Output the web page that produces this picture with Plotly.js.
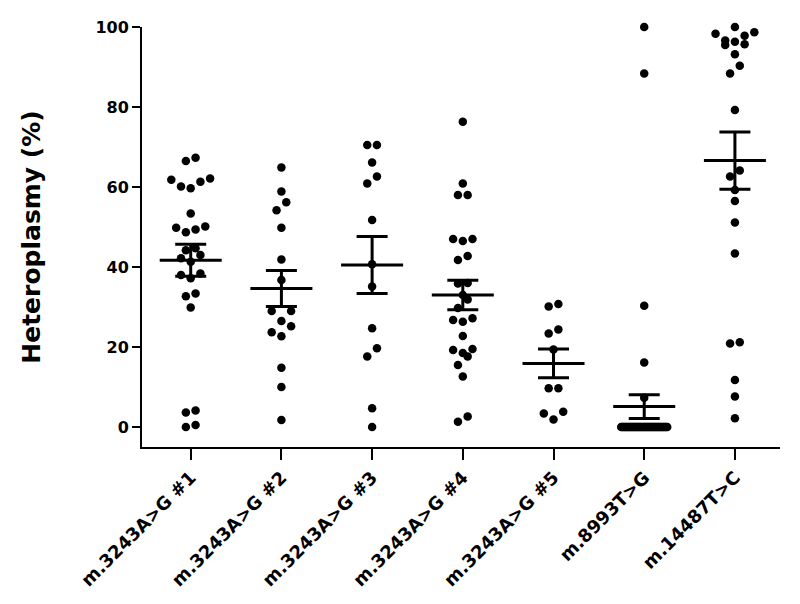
<!DOCTYPE html>
<html>
<head>
<meta charset="utf-8">
<script src="https://cdn.plot.ly/plotly-3.0.1.min.js"></script>
<style>html,body{margin:0;padding:0;background:#fff;}#chart{width:800px;height:604px;}</style>
</head>
<body>
<div id="chart"></div>
<script>
// ---------- data ----------
const categories = ["m.3243A>G #1", "m.3243A>G #2", "m.3243A>G #3", "m.3243A>G #4", "m.3243A>G #5", "m.8993T>G", "m.14487T>C"];

const g1 = [67.3, 66.5, 62.1, 61.8, 61.3, 60.1, 59.7, 53.4, 50.1, 49.8, 49.4, 48.7, 44.7, 44.2, 43.0, 42.2, 41.3, 38.4, 38.0, 37.2, 33.4, 32.7, 29.9, 4.1, 3.6, 0.5, 0];
const g2 = [64.9, 58.9, 56.2, 54.2, 49.8, 41.9, 36.75, 29.0, 29.0, 26.5, 25.2, 23.7, 22.7, 14.8, 10.0, 1.75];
const g3 = [70.5, 70.5, 66.1, 62.6, 60.9, 51.75, 40.7, 35.1, 24.7, 19.7, 17.6, 4.7, 0];
const g4 = [76.3, 60.9, 58.0, 58.0, 47.0, 46.5, 47.0, 42.75, 41.75, 36.0, 35.9, 33.0, 31.9, 29.75, 27.2, 26.75, 26.3, 22.75, 19.5, 19.25, 18.5, 17.6, 15.5, 12.6, 2.6, 1.3];
const g5 = [30.75, 30.1, 24.4, 23.4, 19.4, 9.7, 9.7, 3.8, 3.4, 1.9];
const g6 = [100, 88.4, 30.3, 16.1, 7.3,
  0, 0, 0, 0, 0, 0, 0, 0, 0, 0, 0, 0, 0, 0, 0, 0, 0, 0, 0, 0, 0,
  0, 0, 0, 0, 0, 0, 0, 0, 0, 0, 0, 0, 0, 0, 0, 0, 0, 0, 0, 0, 0];
const g7 = [100, 98.7, 97.8, 98.3, 96.6, 96.3, 95.5, 95.7, 93.2, 90.3, 88.4, 79.25, 64.1, 62.6, 59.25, 56.5, 51.1, 43.4, 21.2, 20.9, 11.75, 7.6, 2.2];

const means = [41.7, 34.6, 40.5, 33.0, 15.9, 5.1, 66.6];
const sems  = [4.0, 4.5, 7.1, 3.7, 3.6, 2.95, 7.15];

const yTicks = [0, 20, 40, 60, 80, 100];
const yTitle = "Heteroplasmy (%)";

// ---------- layout geometry ----------
const W = 800, H = 604;
const M = {l: 142, r: 20, t: 27, b: 157};
const xRange = [-0.537, 6.497];
const yRange = [-5, 100];
const pxPerX = (W - M.l - M.r) / (xRange[1] - xRange[0]);
const pxPerY = (H - M.t - M.b) / (yRange[1] - yRange[0]);

// beeswarm offsets (pixels) computed from the values
function swarm(vals) {
  const spacing = 9.7, binPx = 10, maxHalf = 23;
  const idx = vals.map((v, i) => i).sort((a, b) => vals[a] - vals[b]);
  const off = new Array(vals.length).fill(0);
  const bins = [];
  let cur = [];
  idx.forEach(i => {
    if (cur.length && (vals[i] - vals[cur[0]]) * pxPerY > binPx) { bins.push(cur); cur = []; }
    cur.push(i);
  });
  if (cur.length) bins.push(cur);
  bins.forEach(b => {
    const n = b.length;
    let step = spacing;
    if (n > 1 && (n - 1) / 2 * step > maxHalf) step = 2 * maxHalf / (n - 1);
    const pos = [];
    for (let k = 0; k < n; k++) pos.push((k - (n - 1) / 2) * step);
    pos.sort((a, c) => Math.abs(a) - Math.abs(c) || a - c);
    b.forEach((i, k) => { off[i] = pos[k]; });
  });
  return off;
}

const groups = [g1, g2, g3, g4, g5, g6, g7];
const traces = [];
groups.forEach((vals, gi) => {
  const off = swarm(vals);
  traces.push({
    type: 'scatter', mode: 'markers',
    x: vals.map((v, i) => gi + off[i] / pxPerX),
    y: vals,
    marker: {color: '#000', size: 8.5, line: {width: 0}},
    cliponaxis: false, hoverinfo: 'y', showlegend: false
  });
});

// mean lines (line-ew spans 1.4 x size) with SEM error bars
traces.push({
  type: 'scatter', mode: 'markers',
  x: categories.map((c, i) => i),
  y: means,
  marker: {symbol: 'line-ew', size: 44.3, color: '#000', line: {width: 3, color: '#000'}},
  error_y: {type: 'data', array: sems, visible: true, color: '#000', thickness: 3, width: 15.5},
  cliponaxis: false, showlegend: false, hoverinfo: 'y'
});

const fontFam = '"DejaVu Sans", Verdana, sans-serif';
const layout = {
  width: W, height: H,
  margin: M,
  paper_bgcolor: '#fff', plot_bgcolor: '#fff',
  showlegend: false,
  font: {family: fontFam, color: '#000'},
  xaxis: {
    range: xRange, showgrid: false, zeroline: false,
    showline: true, linecolor: '#000', linewidth: 2,
    ticks: 'outside', ticklen: 11, tickwidth: 2, tickcolor: '#000',
    tickvals: categories.map((c, i) => i), ticktext: categories,
    tickangle: -45,
    tickfont: {family: fontFam, size: 18, weight: 'bold', color: '#000'}
  },
  yaxis: {
    range: yRange, showgrid: false, zeroline: false,
    showline: true, linecolor: '#000', linewidth: 2,
    ticks: 'outside', ticklen: 8, tickwidth: 2, tickcolor: '#000',
    tickvals: yTicks, ticktext: yTicks.map(String),
    tickfont: {family: fontFam, size: 16, weight: 'bold', color: '#000'},
    title: {text: yTitle, font: {family: fontFam, size: 25, weight: 'bold', color: '#000'}, standoff: 48}
  }
};

Plotly.newPlot('chart', traces, layout, {staticPlot: true});
</script>
</body>
</html>
